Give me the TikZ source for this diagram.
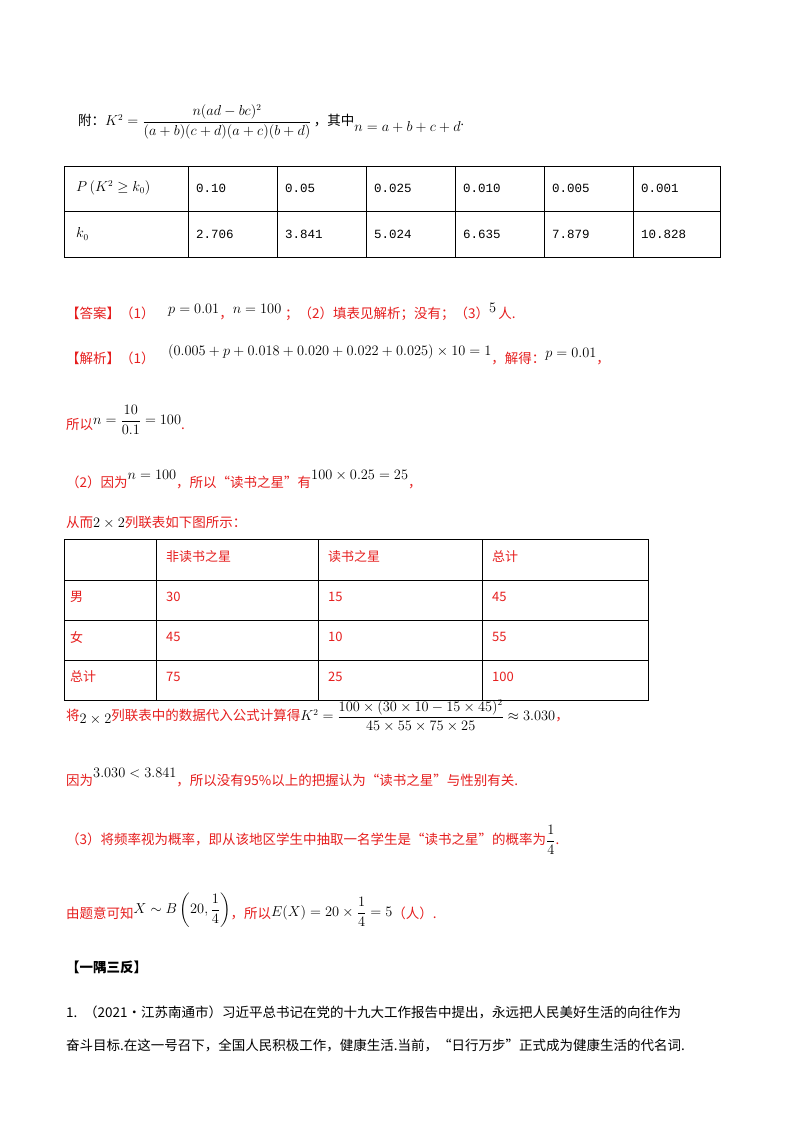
\documentclass[tikz,border=0pt]{standalone}
\usepackage{fontspec}
\usepackage{amsmath}
\setmainfont{Liberation Serif}
\newfontfamily\cjk{Noto Sans CJK SC}
\newfontfamily\mono{Liberation Mono}
\definecolor{ansred}{RGB}{230,30,30}
\begin{document}
\begin{tikzpicture}[x=1pt,y=-1pt,
  txt/.style={anchor=west,inner sep=0pt,font=\fontsize{13.5}{16}\selectfont},
  red/.style={txt,text=ansred},
  cell/.style={anchor=west,inner sep=0pt,font=\fontsize{13.5}{16}\selectfont},
  grid/.style={line width=0.8pt}]
\useasboundingbox[fill=white] (0,0) rectangle (800,1132);
% formula line
\node[txt] (a1) at (78,122) {{\cjk 附：}$K^2=\dfrac{n(ad-bc)^2}{(a+b)(c+d)(a+c)(b+d)}$\,{\cjk ，其中}\raisebox{-6pt}{$n=a+b+c+d$}.};
% table 1
\draw[grid] (64,166) rectangle (720,257);
\draw[grid] (64,211) -- (720,211);
\foreach \x in {188,277,366,455,544,633} \draw[grid] (\x,166) -- (\x,257);
\node[cell] (p) at (76,188) {$P\left(K^2\ge k_0\right)$};
\node[cell] (k) at (76,234) {$k_0$};
\foreach \x/\a/\b [count=\i] in {196/0.10/2.706,285/0.05/3.841,374/0.025/5.024,463/0.010/6.635,552/0.005/7.879,641/0.001/10.828}{
  \node[cell,font=\mono\fontsize{12.5}{14}\selectfont] (u\i) at (\x,188) {\a};
  \node[cell,font=\mono\fontsize{12.5}{14}\selectfont] (v\i) at (\x,234) {\b};}
% answer
\node[red] (b1) at (66,312) {\cjk 【答案】（1）\quad\textcolor{black}{\raisebox{5pt}{$p=0.01$}}，\textcolor{black}{\raisebox{5pt}{$n=100$}}\;；（2）填表见解析；没有；（3）\textcolor{black}{\raisebox{6pt}{$5$}}\,人.};
\node[red] (b2) at (66,355) {\cjk 【解析】（1）\quad\textcolor{black}{\raisebox{8pt}{$(0.005+p+0.018+0.020+0.022+0.025)\times10=1$}}，解得：\raisebox{6pt}{\textcolor{black}{$p=0.01$}}，};
\node[red] (b3) at (66,420) {\cjk 所以\textcolor{black}{\raisebox{5pt}{$n=\dfrac{10}{0.1}=100$}}.};
\node[red] (b4) at (66,480) {\cjk （2）因为\textcolor{black}{\raisebox{8pt}{$n=100$}}，所以“读书之星”有\textcolor{black}{\raisebox{8pt}{$100\times0.25=25$}}，};
\node[red] (b5) at (66,522) {\cjk 从而\textcolor{black}{$2\times2$}列联表如下图所示：};
% table 2
\draw[grid] (64,539) rectangle (648,700);
\foreach \y in {580,620,660} \draw[grid] (64,\y) -- (648,\y);
\foreach \x in {156,318,482} \draw[grid] (\x,539) -- (\x,700);
\foreach \y/\a/\b/\c/\d [count=\i] in {557//非读书之星/读书之星/总计,597/男/30/15/45,637/女/45/10/55,677/总计/75/25/100}{
  \node[cell,text=ansred,font=\cjk\fontsize{13}{15}\selectfont] (r\i a) at (70,\y) {\a};
  \node[cell,text=ansred,font=\cjk\fontsize{13}{15}\selectfont] (r\i b) at (166,\y) {\b};
  \node[cell,text=ansred,font=\cjk\fontsize{13}{15}\selectfont] (r\i c) at (328,\y) {\c};
  \node[cell,text=ansred,font=\cjk\fontsize{13}{15}\selectfont] (r\i d) at (492,\y) {\d};}
\node[red] (c1) at (66,716) {\cjk 将\textcolor{black}{\raisebox{-3pt}{$2\times2$}}列联表中的数据代入公式计算得\textcolor{black}{$K^2=\dfrac{100\times(30\times10-15\times45)^2}{45\times55\times75\times25}\approx3.030$}，};
\node[red] (c2) at (66,778) {\cjk 因为\textcolor{black}{\raisebox{8pt}{$3.030<3.841$}}，所以没有95\%以上的把握认为“读书之星”与性别有关.};
\node[red] (c3) at (66,840) {\cjk （3）将频率视为概率，即从该地区学生中抽取一名学生是“读书之星”的概率为\textcolor{black}{$\dfrac14$}.};
\node[red] (c4) at (66,910) {\cjk 由题意可知\textcolor{black}{\raisebox{5pt}{$X\sim B\left(20,\dfrac14\right)$}}，所以\textcolor{black}{\raisebox{2pt}{$E(X)=20\times\dfrac14=5$}}（人）.};
\node[txt] (d1) at (66,967) {\cjk\bfseries 【一隅三反】};
\node[txt] (d2) at (66,1012) {\cjk 1.\enspace（2021•江苏南通市）习近平总书记在党的十九大工作报告中提出，永远把人民美好生活的向往作为};
\node[txt] (d3) at (66,1045) {\cjk 奋斗目标.在这一号召下，全国人民积极工作，健康生活.当前，“日行万步”正式成为健康生活的代名词.};
\end{tikzpicture}
\end{document}
